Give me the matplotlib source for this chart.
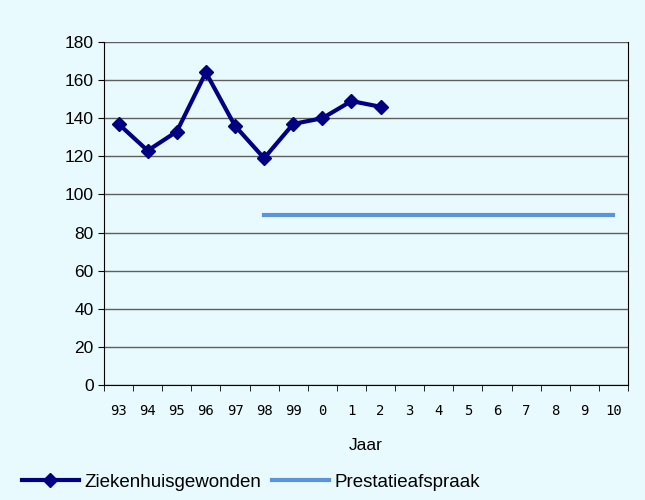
import matplotlib.pyplot as plt
import numpy as np

# jaartallen op de x-as
jaren = ["93", "94", "95", "96", "97", "98", "99", "0", "1", "2",
         "3", "4", "5", "6", "7", "8", "9", "10"]

# ziekenhuisgewonden per jaar (93 t/m 2)
gewonden = [137, 123, 133, 164, 136, 119, 137, 140, 149, 146]

# prestatieafspraak vanaf 98 t/m 10
afspraak_start = 5
afspraak = [89] * 13

achtergrond = "#E8FAFD"

fig = plt.figure(figsize=(6.45, 5.0), dpi=100, facecolor=achtergrond)
ax = fig.add_axes([104 / 645, 1 - 385 / 500, 524 / 645, 343 / 500])
ax.set_facecolor(achtergrond)

x = np.arange(len(jaren))
ax.plot(x[:len(gewonden)], gewonden, color="#000080", lw=3, marker="D",
        ms=7, label="Ziekenhuisgewonden", zorder=3)
ax.plot(x[afspraak_start:afspraak_start + len(afspraak)], afspraak,
        color="#5B93DD", lw=3, label="Prestatieafspraak", zorder=3)

ax.set_xlim(-0.5, len(jaren) - 0.5)
ax.set_ylim(0, 180)
ax.set_yticks(range(0, 181, 20))
ax.yaxis.grid(True, color="#5E5E5E", lw=1)
ax.set_axisbelow(True)

ax.set_xticks(x)
ax.set_xticklabels(jaren, family="DejaVu Sans Mono", fontsize=10)
ax.set_xticks(np.arange(-0.5, len(jaren)), minor=True)
ax.tick_params(axis="x", which="major", length=0, pad=14)
ax.tick_params(axis="x", which="minor", length=4, color="black")
ax.tick_params(axis="y", labelsize=12.5, length=4, direction="out")
for lbl in ax.get_yticklabels():
    lbl.set_family("Liberation Sans")

for s in ["left", "bottom", "right"]:
    ax.spines[s].set_color("black")
ax.spines["top"].set_visible(False)

ax.set_xlabel("Jaar", family="Liberation Sans", fontsize=12.5, labelpad=14)

fig.legend(loc="lower left", bbox_to_anchor=(0.02, 0.0), ncol=2, frameon=False,
           prop={"family": "Liberation Sans", "size": 13.5}, handlelength=3,
           columnspacing=0.6, handletextpad=0.3, borderaxespad=0.1)

fig.savefig("out.png", facecolor=achtergrond)
